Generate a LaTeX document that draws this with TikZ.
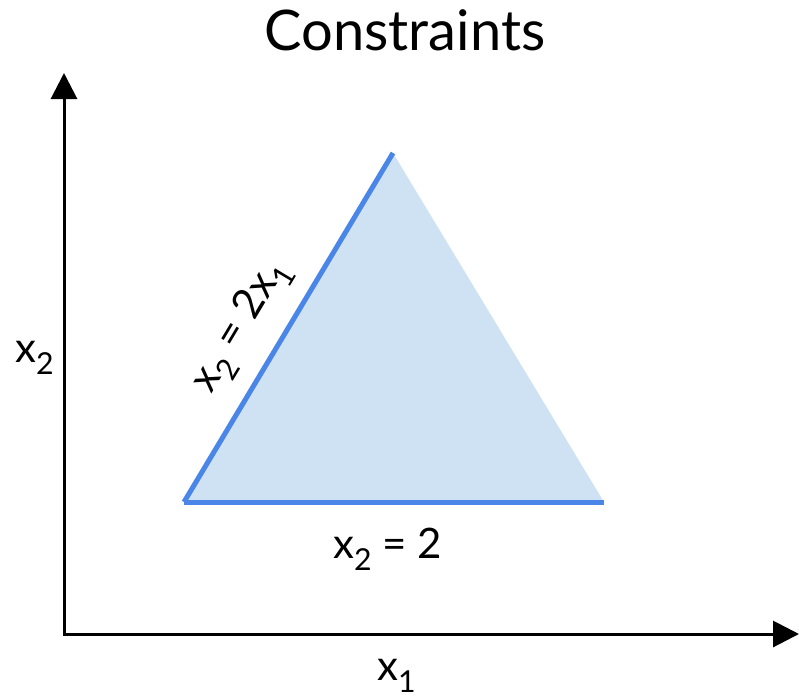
\documentclass[tikz,border=0pt]{standalone}
\usepackage{fontspec}
\setmainfont{Lato}
\usetikzlibrary{arrows.meta}
\definecolor{fillblue}{HTML}{CFE2F3}
\definecolor{lineblue}{HTML}{4A86E8}
\newcommand{\lsub}[1]{\raisebox{-0.3em}{\scalebox{0.72}{#1}}}
\begin{document}
\begin{tikzpicture}[x=1pt,y=-1pt,
  axis/.style={line width=3pt,line cap=rect,-{Triangle[length=26pt,width=26pt]}},
  constraint/.style={lineblue,line width=5pt},
  lbl/.style={font=\fontsize{42}{50}\selectfont,inner sep=0pt},
  title/.style={font=\fontsize{56}{66}\selectfont,inner sep=0pt}]
\useasboundingbox (0,0) rectangle (799,696);
\coordinate (O) at (64,634);
\coordinate (ytip) at (64,73);
\coordinate (xtip) at (799,634);
\coordinate (A) at (184,502);
\coordinate (B) at (604,502);
\coordinate (C) at (393,153);
\fill[fillblue] (A) -- (C) -- (B) -- cycle;
\draw[constraint] (A) -- (C);
\draw[constraint] (A) -- (B);
\draw[axis] (O) -- (ytip);
\draw[axis] (O) -- (xtip);
\node[title,anchor=base] (ttl) at (405,50) {Constraints};
\node[lbl,anchor=base west] (ylab) at (15,362) {x\lsub{2}};
\node[lbl,anchor=base west] (xlab) at (377,680) {x\lsub{1}};
\node[lbl,anchor=base west] (hlab) at (333,558) {x\lsub{2} = 2};
\node[lbl,anchor=base,rotate=59.1] (slab) at (249,331) {x\lsub{2} = 2x\lsub{1}};
\end{tikzpicture}
\end{document}
